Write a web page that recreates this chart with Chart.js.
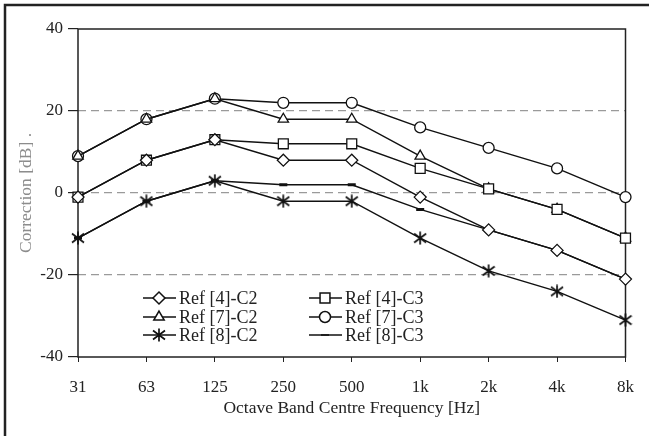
<!DOCTYPE html>
<html>
<head>
<meta charset="utf-8">
<script src="https://cdn.jsdelivr.net/npm/chart.js@4.4.0/dist/chart.umd.min.js"></script>
<style>
  body { margin: 0; background: #fff; }
  #wrap { width: 649px; height: 436px; }
</style>
</head>
<body>
<div id="wrap"><canvas id="correctionchart" width="649" height="436"></canvas></div>
<script>
// octave bands and correction values [dB]
var freqLabels = ['31', '63', '125', '250', '500', '1k', '2k', '4k', '8k'];
var ref4C2 = [-1, 8, 13, 8, 8, -1, -9, -14, -21];
var ref4C3 = [-1, 8, 13, 12, 12, 6, 1, -4, -11];
var ref7C2 = [9, 18, 23, 18, 18, 9, 1, -4, -11];
var ref7C3 = [9, 18, 23, 22, 22, 16, 11, 6, -1];
var ref8C2 = [-11, -2, 3, -2, -2, -11, -19, -24, -31];
var ref8C3 = [-11, -2, 3, 2, 2, -4, -9, -14, -21];
var yTicks = [-40, -20, 0, 20, 40];

var serif = "'Liberation Serif', 'Times New Roman', serif";

// excel style asterisk marker (vertical + x)
function makeStar() {
    var c = document.createElement('canvas');
    c.width = 14; c.height = 14;
    var g = c.getContext('2d');
    g.strokeStyle = '#111';
    g.lineWidth = 1.7;
    g.beginPath();
    g.moveTo(7, 0.5); g.lineTo(7, 13.5);
    g.moveTo(1, 2.5); g.lineTo(13, 11.5);
    g.moveTo(13, 2.5); g.lineTo(1, 11.5);
    g.stroke();
    return c;
}
var starImg = makeStar();

function series(label, data, style, radius, bw) {
    return {
        label: label,
        data: data,
        borderColor: '#111',
        borderWidth: 1.5,
        pointStyle: style,
        pointRadius: radius,
        pointHoverRadius: radius,
        pointBackgroundColor: '#fff',
        pointBorderColor: '#111',
        pointBorderWidth: bw || 1.3,
        tension: 0,
        fill: false
    };
}

var datasets = [
    series('Ref [4]-C2', ref4C2, 'rectRot', 6),
    series('Ref [4]-C3', ref4C3, 'rect', 7),
    series('Ref [7]-C2', ref7C2, 'triangle', 6),
    series('Ref [7]-C3', ref7C3, 'circle', 5.5),
    series('Ref [8]-C2', ref8C2, starImg, 7),
    series('Ref [8]-C3', ref8C3, 'line', 4, 3)
];

// legend slots inside the plot: [x of marker, y]
var legendCols = [159, 325];
var legendRows = [298, 317, 335];

var boxPlugin = {
    id: 'boxPlugin',
    beforeDatasetsDraw(chart) {
        var ctx = chart.ctx, a = chart.chartArea;
        ctx.save();
        ctx.strokeStyle = '#222';
        ctx.lineWidth = 1.5;
        ctx.strokeRect(a.left, a.top, a.right - a.left, a.bottom - a.top);
        ctx.lineWidth = 2.5;
        ctx.beginPath();
        ctx.moveTo(5, 436);
        ctx.lineTo(5, 5);
        ctx.lineTo(649, 5);
        ctx.stroke();
        ctx.restore();
    },
    afterDatasetsDraw(chart) {
        var ctx = chart.ctx;
        ctx.save();
        chart.data.datasets.forEach(function (ds, i) {
            var col = i % 2, row = Math.floor(i / 2);
            var cx = legendCols[col], cy = legendRows[row];
            ctx.strokeStyle = '#111';
            ctx.lineWidth = 1.5;
            ctx.beginPath();
            ctx.moveTo(cx - 16, cy);
            ctx.lineTo(cx + 17, cy);
            ctx.stroke();
            ctx.fillStyle = '#fff';
            ctx.strokeStyle = '#111';
            Chart.helpers.drawPoint(ctx, {
                pointStyle: ds.pointStyle,
                radius: ds.pointRadius,
                borderWidth: ds.pointBorderWidth,
                rotation: 0
            }, cx, cy);
            ctx.fillStyle = '#222';
            ctx.font = '18px ' + serif;
            ctx.textAlign = 'left';
            ctx.textBaseline = 'middle';
            ctx.fillText(ds.label, cx + 20, cy + 1);
        });
        ctx.restore();
    }
};

var ctx = document.getElementById('correctionchart').getContext('2d');
var chart = new Chart(ctx, {
    type: 'line',
    data: { labels: freqLabels, datasets: datasets },
    options: {
        responsive: false,
        animation: false,
        layout: { padding: { top: 29, right: 17, left: 0, bottom: 0 } },
        plugins: {
            legend: { display: false },
            tooltip: { enabled: false }
        },
        scales: {
            x: {
                offset: false,
                border: { display: false },
                grid: { drawOnChartArea: false, tickLength: 5, tickColor: '#222' },
                ticks: { color: '#222', font: { family: serif, size: 17 }, padding: 15 },
                title: {
                    display: true,
                    text: 'Octave Band Centre Frequency [Hz]',
                    color: '#222',
                    font: { family: serif, size: 17.5 },
                    padding: { top: 0, bottom: 17 }
                },
                afterFit: function (s) { s.height = 79; }
            },
            y: {
                min: -40,
                max: 40,
                border: { display: false, dash: [8, 5] },
                grid: {
                    color: function (c) {
                        var v = c.tick ? c.tick.value : null;
                        return (v === 40 || v === -40) ? 'rgba(0,0,0,0)' : '#9a9a9a';
                    },
                    tickColor: '#222',
                    tickLength: 10,
                    tickBorderDash: [],
                    lineWidth: 1.2
                },
                afterBuildTicks: function (s) {
                    s.ticks = yTicks.map(function (v) { return { value: v }; });
                },
                ticks: { color: '#222', font: { family: serif, size: 17 }, padding: 5 },
                title: {
                    display: true,
                    text: 'Correction [dB] .',
                    color: '#8c8c8c',
                    font: { family: serif, size: 17.5 },
                    padding: { top: 16, bottom: 0 }
                },
                afterFit: function (s) { s.width = 78; }
            }
        }
    },
    plugins: [boxPlugin]
});
</script>
</body>
</html>
